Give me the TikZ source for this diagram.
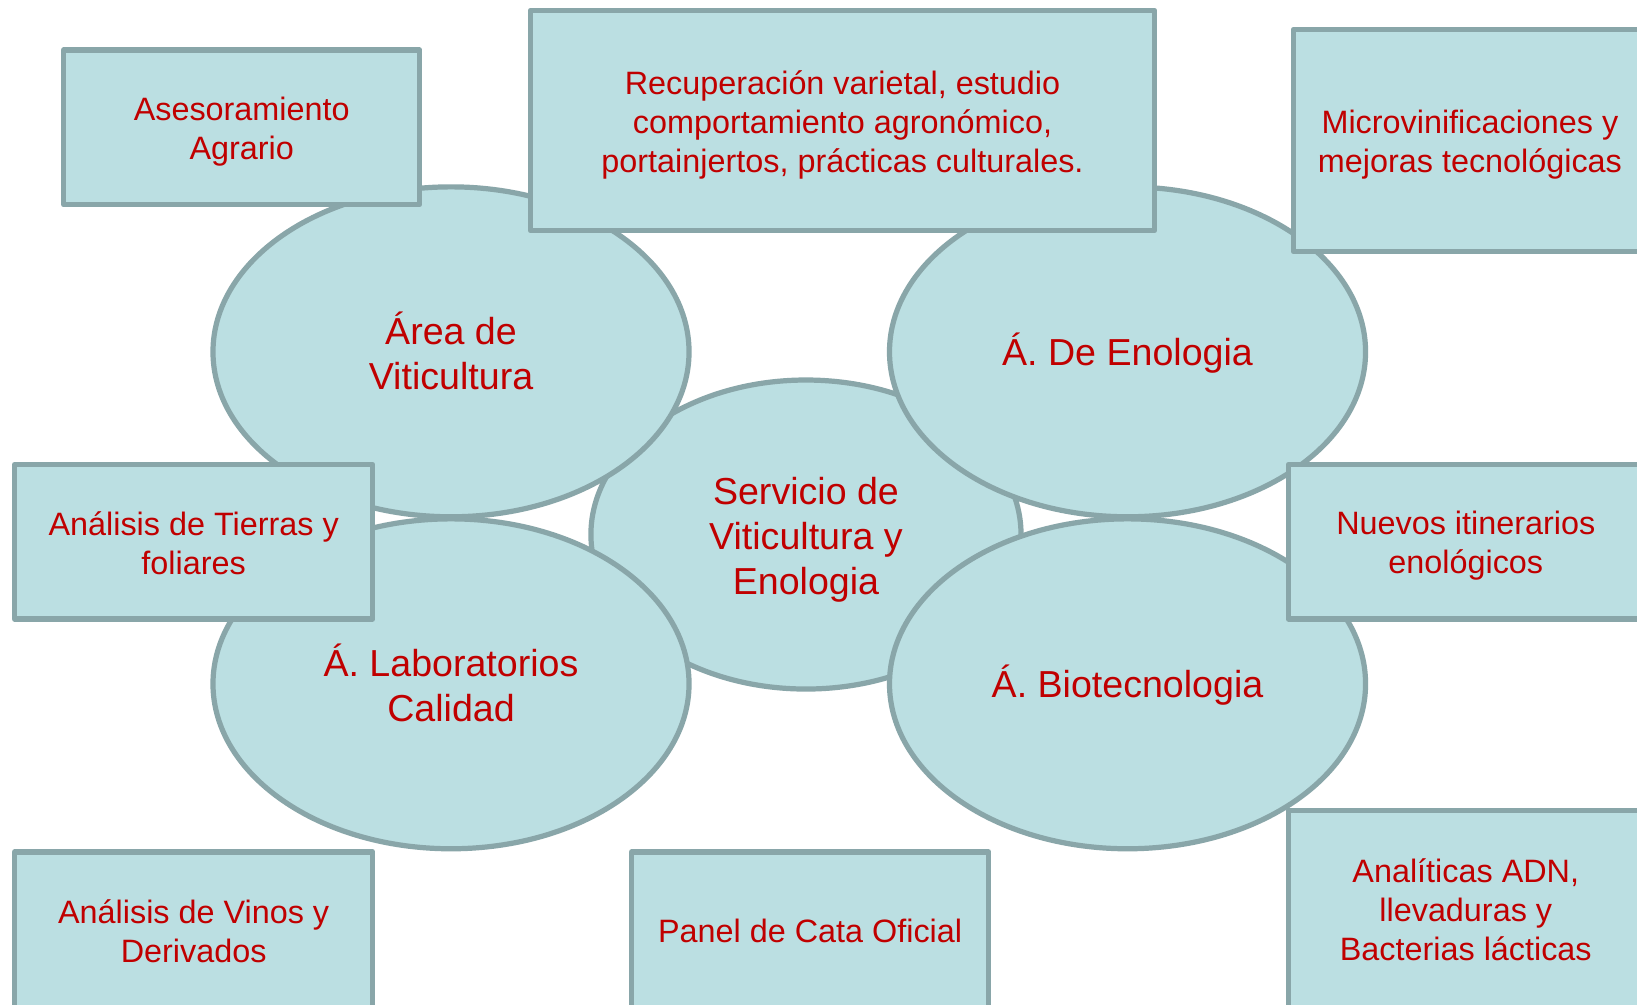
\documentclass[tikz,border=0pt]{standalone}
\usepackage{fontspec}
\setmainfont{Liberation Sans}
\usetikzlibrary{shapes.geometric}
\definecolor{fillc}{HTML}{BBDFE2}
\definecolor{linec}{HTML}{89A6A9}
\definecolor{txtc}{HTML}{C00000}
\tikzset{
  oval/.style={ellipse, draw=linec, fill=fillc, line width=5pt, inner sep=0pt},
  boxnode/.style={rectangle, draw=linec, fill=fillc, line width=5pt, line join=round, inner sep=0pt},
  bigtxt/.style={text=txtc, align=center, inner sep=0pt, font=\fontsize{36}{43}\selectfont},
  smalltxt/.style={text=txtc, align=center, inner sep=0pt, font=\fontsize{31}{37.5}\selectfont}
}
\begin{document}
\begin{tikzpicture}[x=1pt,y=1pt]
\useasboundingbox (0,0) rectangle (1568,962);
\clip (0,0) rectangle (1568,962);
\fill[white] (0,0) rectangle (1568,962);
% central
\node[oval, minimum width=412, minimum height=296] (srv) at (772,450) {};
\node[bigtxt] (srvt) at ([yshift=-5]srv.center) {Servicio de\\Viticultura y\\Enologia};
% outer ellipses
\node[oval, minimum width=456, minimum height=316] (vit) at (432,625) {};
\node[bigtxt] (vitt) at ([yshift=1]vit.center) {Área de\\Viticultura};
\node[oval, minimum width=456, minimum height=316] (eno) at (1080,625) {};
\node[bigtxt] (enot) at ([yshift=-1]eno.center) {Á. De Enologia};
\node[oval, minimum width=456, minimum height=316] (lab) at (432,307) {};
\node[bigtxt] (labt) at ([yshift=1]lab.center) {Á. Laboratorios\\Calidad};
\node[oval, minimum width=456, minimum height=316] (bio) at (1080,307) {};
\node[bigtxt] (biot) at ([yshift=-1]bio.center) {Á. Biotecnologia};
% boxes
\node[boxnode, minimum width=341, minimum height=148] (ase) at (231.5,840) {};
\node[smalltxt] (aset) at ([yshift=-4]ase.center) {Asesoramiento\\Agrario};
\node[boxnode, minimum width=598, minimum height=211] (rec) at (807,846.5) {};
\node[smalltxt] (rect) at ([yshift=-4]rec.center) {Recuperación varietal, estudio\\comportamiento agronómico,\\portainjertos, prácticas culturales.};
\node[boxnode, minimum width=338, minimum height=213] (mic) at (1408,827.5) {};
\node[smalltxt] (mict) at ([yshift=-4]mic.center) {Microvinificaciones y\\mejoras tecnológicas};
\node[boxnode, minimum width=343, minimum height=148] (tie) at (185.5,443) {};
\node[smalltxt] (tiet) at ([yshift=-1]tie.center) {Análisis de Tierras y\\foliares};
\node[boxnode, minimum width=340, minimum height=148] (nue) at (1404,443) {};
\node[smalltxt] (nuet) at ([yshift=-4]nue.center) {Nuevos itinerarios\\enológicos};
\node[boxnode, minimum width=343, minimum height=150] (vin) at (185.5,71) {};
\node[smalltxt] (vint) at ([yshift=-1]vin.center) {Análisis de Vinos y\\Derivados};
\node[boxnode, minimum width=342, minimum height=150] (pan) at (776,71) {};
\node[smalltxt] (pant) at ([yshift=-1]pan.center) {Panel de Cata Oficial};
\node[boxnode, minimum width=340, minimum height=189] (adn) at (1404,91.5) {};
\node[smalltxt] (adnt) at ([yshift=-1]adn.center) {Analíticas ADN,\\llevaduras y\\Bacterias lácticas};
\end{tikzpicture}
\end{document}
